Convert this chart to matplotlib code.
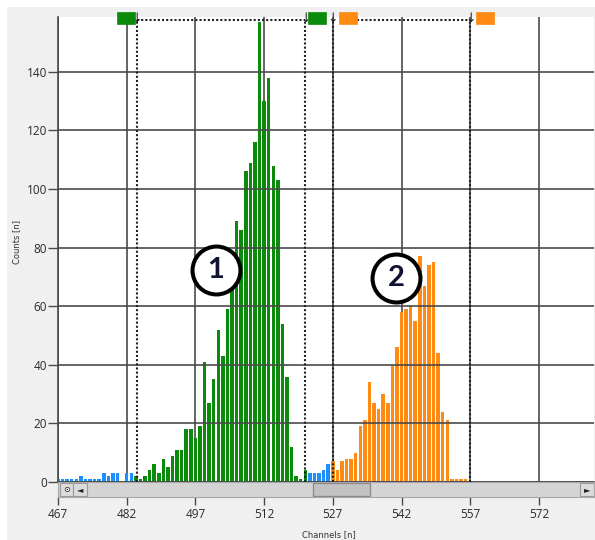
import numpy as np
import matplotlib.pyplot as plt
from matplotlib.patches import Rectangle
from matplotlib.transforms import blended_transform_factory

# ---- counts per channel ----
low_channels = np.arange(467, 484)
low_counts = [1, 1, 1, 1, 1, 2, 1, 1, 1, 1, 3, 2, 3, 3, 0, 3, 3]

roi1_channels = np.arange(484, 522)
roi1_counts = [2, 1, 2, 4, 6, 3, 8, 5, 9, 11, 11, 18, 18, 15, 19, 41, 27, 35, 52,
               43, 59, 68, 89, 86, 106, 109, 116, 157, 130, 138, 108, 103, 54,
               36, 12, 2, 1, 4]

gap_channels = np.arange(522, 527)
gap_counts = [3, 3, 3, 4, 6]

roi2_channels = np.arange(527, 557)
roi2_counts = [7, 4, 7, 8, 8, 10, 19, 21, 34, 27, 25, 30, 27, 40, 46, 58, 59, 60,
               55, 77, 67, 74, 75, 44, 24, 21, 1, 1, 1, 1]

# ROI borders (channels)
roi1_bounds = [484.25, 521.0]
roi2_bounds = [527.0, 557.0]

x_ticks = np.arange(467, 580, 15)
y_ticks = np.arange(0, 141, 20)

GREEN = '#0c8a0c'
ORANGE = '#ff8b14'
BLUE = '#1e8fff'
GRID = '#4a4a4a'

W, H = 595, 540
fig = plt.figure(figsize=(W / 100, H / 100), dpi=100)
fig.patch.set_facecolor('white')
# grey control background
fig.add_artist(Rectangle((7 / W, 0), 1, 1 - 7 / H, transform=fig.transFigure,
                         facecolor='#f0f0f0', edgecolor='none', zorder=-10))

ax = fig.add_axes([58 / W, 1 - 482 / H, 536 / W, 465 / H])
ax.set_facecolor('white')

bw = 0.76
ax.bar(low_channels, low_counts, width=bw, color=BLUE, linewidth=0, zorder=2)
ax.bar(roi1_channels, roi1_counts, width=bw, color=GREEN, linewidth=0, zorder=2)
ax.bar(gap_channels, gap_counts, width=bw, color=BLUE, linewidth=0, zorder=2)
ax.bar(roi2_channels, roi2_counts, width=bw, color=ORANGE, linewidth=0, zorder=2)

ax.set_xlim(467, 467 + 536 / 4.58)
ax.set_ylim(0, 465 / 2.93)
ax.set_xticks(x_ticks)
ax.set_yticks(y_ticks)
ax.grid(True, color=GRID, linewidth=1.2)
ax.set_axisbelow(True)
ax.yaxis.set_zorder(2.5)  # horizontal lines over the bars

for s in ['top', 'right', 'bottom']:
    ax.spines[s].set_visible(False)
ax.spines['left'].set_color(GRID)
ax.spines['left'].set_linewidth(1.2)
ax.axhline(0, color=GRID, linewidth=1.2, clip_on=False, zorder=3)

ax.tick_params(axis='x', length=0, labelbottom=False)
ax.tick_params(axis='y', length=7, width=1, color=GRID, labelsize=8.5,
               labelcolor='#2a2a2a', pad=1)
for lab in ax.get_yticklabels():
    lab.set_fontfamily('Open Sans')

# ---- ROI markers ----
trans = blended_transform_factory(ax.transData, ax.transAxes)
y_dot = 0.9935
dots = (0, (1, 1))
box_w = 3.93
box_y, box_h = 0.985, 0.026

for x in roi1_bounds + roi2_bounds:
    ax.plot([x, x], [0, y_dot], transform=trans, color='#222222',
            linestyle=dots, linewidth=1.5, zorder=4, clip_on=False)
    ax.text(x, 0.996, '\u2193', transform=trans, ha='center', va='center',
            fontsize=9, color='#222222', zorder=6, clip_on=False)

ax.plot(roi1_bounds, [y_dot, y_dot], transform=trans, color='#222222',
        linestyle=dots, linewidth=1.5, zorder=4, clip_on=False)
ax.plot([roi2_bounds[0] + 1.4 + box_w, roi2_bounds[1]], [y_dot, y_dot],
        transform=trans, color='#222222', linestyle=dots, linewidth=1.5,
        zorder=4, clip_on=False)

marker_boxes = [
    (roi1_bounds[0] - 0.44 - box_w, GREEN),
    (roi1_bounds[1] + 0.6, GREEN),
    (roi2_bounds[0] + 1.4, ORANGE),
    (roi2_bounds[1] + 1.3, ORANGE),
]
for x0, c in marker_boxes:
    ax.add_patch(Rectangle((x0, box_y), box_w, box_h, transform=trans,
                           facecolor=c, edgecolor=c, linewidth=0.5,
                           zorder=6, clip_on=False))

# ---- peak labels ----
peak_labels = [('1', 501.4, 72.2), ('2', 540.8, 69.6)]
for txt, px, py in peak_labels:
    ax.plot([px], [py], marker='o', markersize=34.5, markerfacecolor='white',
            markeredgecolor='black', markeredgewidth=2.9, zorder=7)
    ax.text(px, py, txt, ha='center', va='center', fontsize=21,
            fontweight='bold', color='#111133', family='Lato', zorder=8)

# ---- scrollbar strip with the channel ticks ----
sb = fig.add_axes([58 / W, 1 - 497 / H, 536 / W, 15 / H], sharex=ax)
sb.set_facecolor('#d4d4d4')
sb.set_yticks([])
for s in sb.spines.values():
    s.set_color('#a8a8a8')
    s.set_linewidth(0.8)
sb.tick_params(axis='x', length=6, width=1, color=GRID, labelsize=8.5,
               labelcolor='#2a2a2a', pad=2)
for lab in sb.get_xticklabels():
    lab.set_fontfamily('Open Sans')

sb_parts = [(2 / 536, 13 / 536, '\u2299'), (15 / 536, 14 / 536, '\u25c4'),
            (522 / 536, 14 / 536, '\u25ba')]
for x0, w, g in sb_parts:
    sb.add_patch(Rectangle((x0, 0.08), w, 0.84, transform=sb.transAxes,
                           facecolor='#dcdcdc', edgecolor='#9a9a9a', linewidth=0.8))
    sb.text(x0 + w / 2, 0.5, g, transform=sb.transAxes, ha='center',
            va='center', fontsize=6, color='#222222')
sb.add_patch(Rectangle((255 / 536, 0.06), 57 / 536, 0.88, transform=sb.transAxes,
                       facecolor='#c2c2c2', edgecolor='#8a8a8a', linewidth=0.9))

fig.text(17 / W, 1 - 242 / H, 'Counts [n]', rotation=90, ha='center',
         va='center', fontsize=6, color='#333333')
fig.text(329 / W, 1 - 535 / H, 'Channels [n]', ha='center', va='center',
         fontsize=6, color='#333333')

fig.savefig('out.png', dpi=100)
